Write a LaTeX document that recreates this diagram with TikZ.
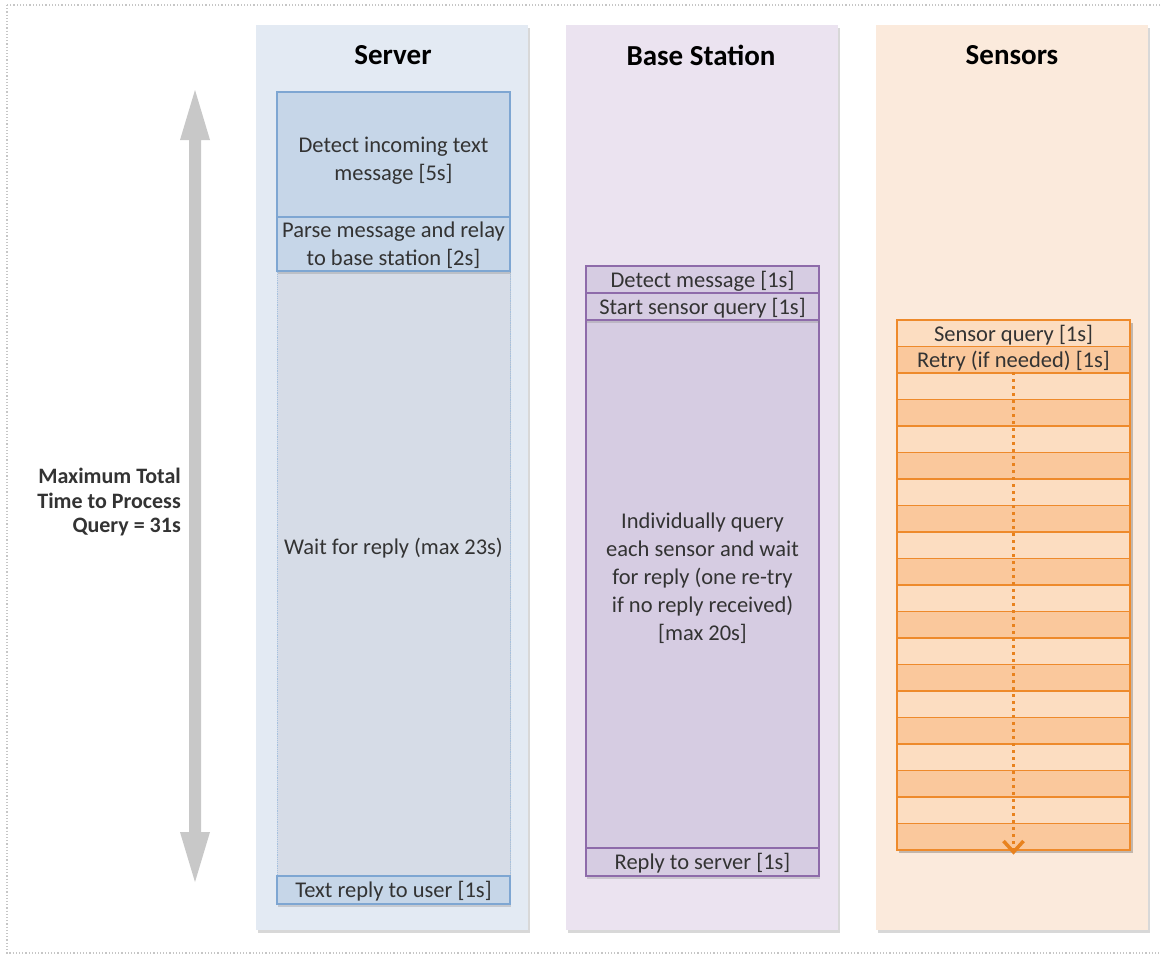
\documentclass[tikz,border=0pt]{standalone}
\usepackage{fontspec}
\setmainfont{Carlito}
\usetikzlibrary{shadows,arrows.meta}
\definecolor{laneS}{HTML}{E3EAF3}
\definecolor{laneB}{HTML}{EBE3F0}
\definecolor{laneO}{HTML}{FBEADC}
\definecolor{srvFill}{HTML}{C6D6E8}
\definecolor{srvWait}{HTML}{D6DCE7}
\definecolor{srvLine}{HTML}{7EA6D2}
\definecolor{bsFill}{HTML}{D6CCE2}
\definecolor{bsLine}{HTML}{8E6BAA}
\definecolor{snLight}{HTML}{FCDDC1}
\definecolor{snDark}{HTML}{FAC89C}
\definecolor{snLine}{HTML}{EE8A2B}
\definecolor{arrOrange}{HTML}{E8821E}
\definecolor{arrGray}{HTML}{C8C8C8}
\definecolor{txtGray}{HTML}{333333}
\tikzset{
  lane/.style={draw=none, minimum width=272pt, minimum height=905pt, inner sep=0pt,
    drop shadow={shadow xshift=1.5pt, shadow yshift=-3pt, opacity=0.3}},
  lanetitle/.style={font=\fontsize{29}{34}\selectfont\bfseries, text=black},
  srvbox/.style={draw=srvLine, line width=1.2pt, fill=srvFill, minimum width=233pt, inner sep=0pt,
    align=center, text=txtGray, font=\fontsize{22.5}{28}\selectfont,
    drop shadow={shadow xshift=1pt, shadow yshift=-2.5pt, opacity=0.3}},
  bsbox/.style={draw=bsLine, line width=1.2pt, fill=bsFill, minimum width=233pt, inner sep=0pt,
    align=center, text=txtGray, font=\fontsize{22.5}{28}\selectfont,
    drop shadow={shadow xshift=1pt, shadow yshift=-2.5pt, opacity=0.3}},
  snrow/.style={draw=snLine, line width=1.2pt, minimum width=233pt, minimum height=26.5pt, inner sep=0pt,
    align=center, text=txtGray, font=\fontsize{22.5}{28}\selectfont},
  boxtext/.style={align=center, text=txtGray, font=\fontsize{22.5}{28}\selectfont, inner sep=0pt},
}
\begin{document}
\begin{tikzpicture}[x=1pt,y=-1pt]
\useasboundingbox (0,0) rectangle (1161,954);
\fill[white] (0,0) rectangle (1161,954);
\draw[gray!45, dotted, line width=1.2pt] (7,5) rectangle (1170,953);

% lanes
\node[lane, fill=laneS] (srvlane) at (392,477.5) {};
\node[lane, fill=laneB] (bslane) at (702,477.5) {};
\node[lane, fill=laneO] (snlane) at (1012,477.5) {};
\node[lanetitle] (srvtitle) at (393,55) {Server};
\node[lanetitle] (bstitle) at (701,55) {Base Station};
\node[lanetitle] (sntitle) at (1012,55) {Sensors};

% server boxes
\node[srvbox, fill=srvWait, draw=srvLine!70, densely dotted, line width=0.8pt, minimum height=605pt] (wait) at (393.5,573.5) {};
\node[boxtext] (waitlbl) at (393.5,548) {Wait for reply (max 23s)};
\node[srvbox, minimum height=125pt] (detect) at (393.5,154.5) {};
\node[boxtext] (detectlbl) at (393.5,161) {Detect incoming text\\message [5s]};
\node[srvbox, minimum height=54pt] (parse) at (393.5,244) {};
\node[boxtext] (parselbl) at (393.5,245.5) {Parse message and relay\\to base station [2s]};
\node[srvbox, minimum height=28pt] (reply) at (393.5,890) {};
\node[boxtext] (replylbl) at (393.5,891) {Text reply to user [1s]};

% base station boxes
\node[bsbox, minimum height=528pt] (indiv) at (702.5,584) {};
\node[boxtext] (indivlbl) at (702.5,578) {Individually query\\each sensor and wait\\for reply (one re-try\\if no reply received)\\{}[max 20s]};
\node[bsbox, minimum height=27pt] (bsdetect) at (702.5,279.5) {};
\node[boxtext] (bsdetectlbl) at (702.5,281) {Detect message [1s]};
\node[bsbox, minimum height=27pt] (bsstart) at (702.5,306.5) {};
\node[boxtext] (bsstartlbl) at (702.5,308) {Start sensor query [1s]};
\node[bsbox, minimum height=28pt] (bsreply) at (702.5,862) {};
\node[boxtext] (bsreplylbl) at (702.5,863) {Reply to server [1s]};

% sensor rows
\fill[black, opacity=0.22] (899,323) rectangle (1132.5,853);
\foreach \i in {0,...,19} {
  \pgfmathtruncatemacro{\odd}{mod(\i,2)}
  \ifnum\odd=0
    \node[snrow, fill=snLight] (row\i) at (1013.5,{333.25+26.5*\i}) {};
  \else
    \node[snrow, fill=snDark] (row\i) at (1013.5,{333.25+26.5*\i}) {};
  \fi
}
\node[boxtext] (sqlbl) at ([yshift=-1.5pt]row0) {Sensor query [1s]};
\node[boxtext] (retrylbl) at ([yshift=-1.5pt]row1) {Retry (if needed) [1s]};
\draw[arrOrange, line width=3pt, dash pattern=on 3pt off 4pt,
  -{Straight Barb[length=11pt, width=20pt, line width=3.5pt]}] (row2.north) -- ([yshift=-4pt]row19.south);

% total time arrow
\coordinate (ttop) at (195,90);
\coordinate (tbot) at (195,882);
\fill[arrGray] (ttop) -- (210,140) -- (201,140) -- (201,832) -- (210,832) -- (tbot) -- (180,832) -- (189,832) -- (189,140) -- (180,140) -- cycle;
\node[align=right, anchor=east, font=\fontsize{22}{24.5}\selectfont\bfseries, text=txtGray, inner sep=0pt] (total) at (181,502) {Maximum Total\\Time to Process\\Query = 31s};
\end{tikzpicture}
\end{document}
